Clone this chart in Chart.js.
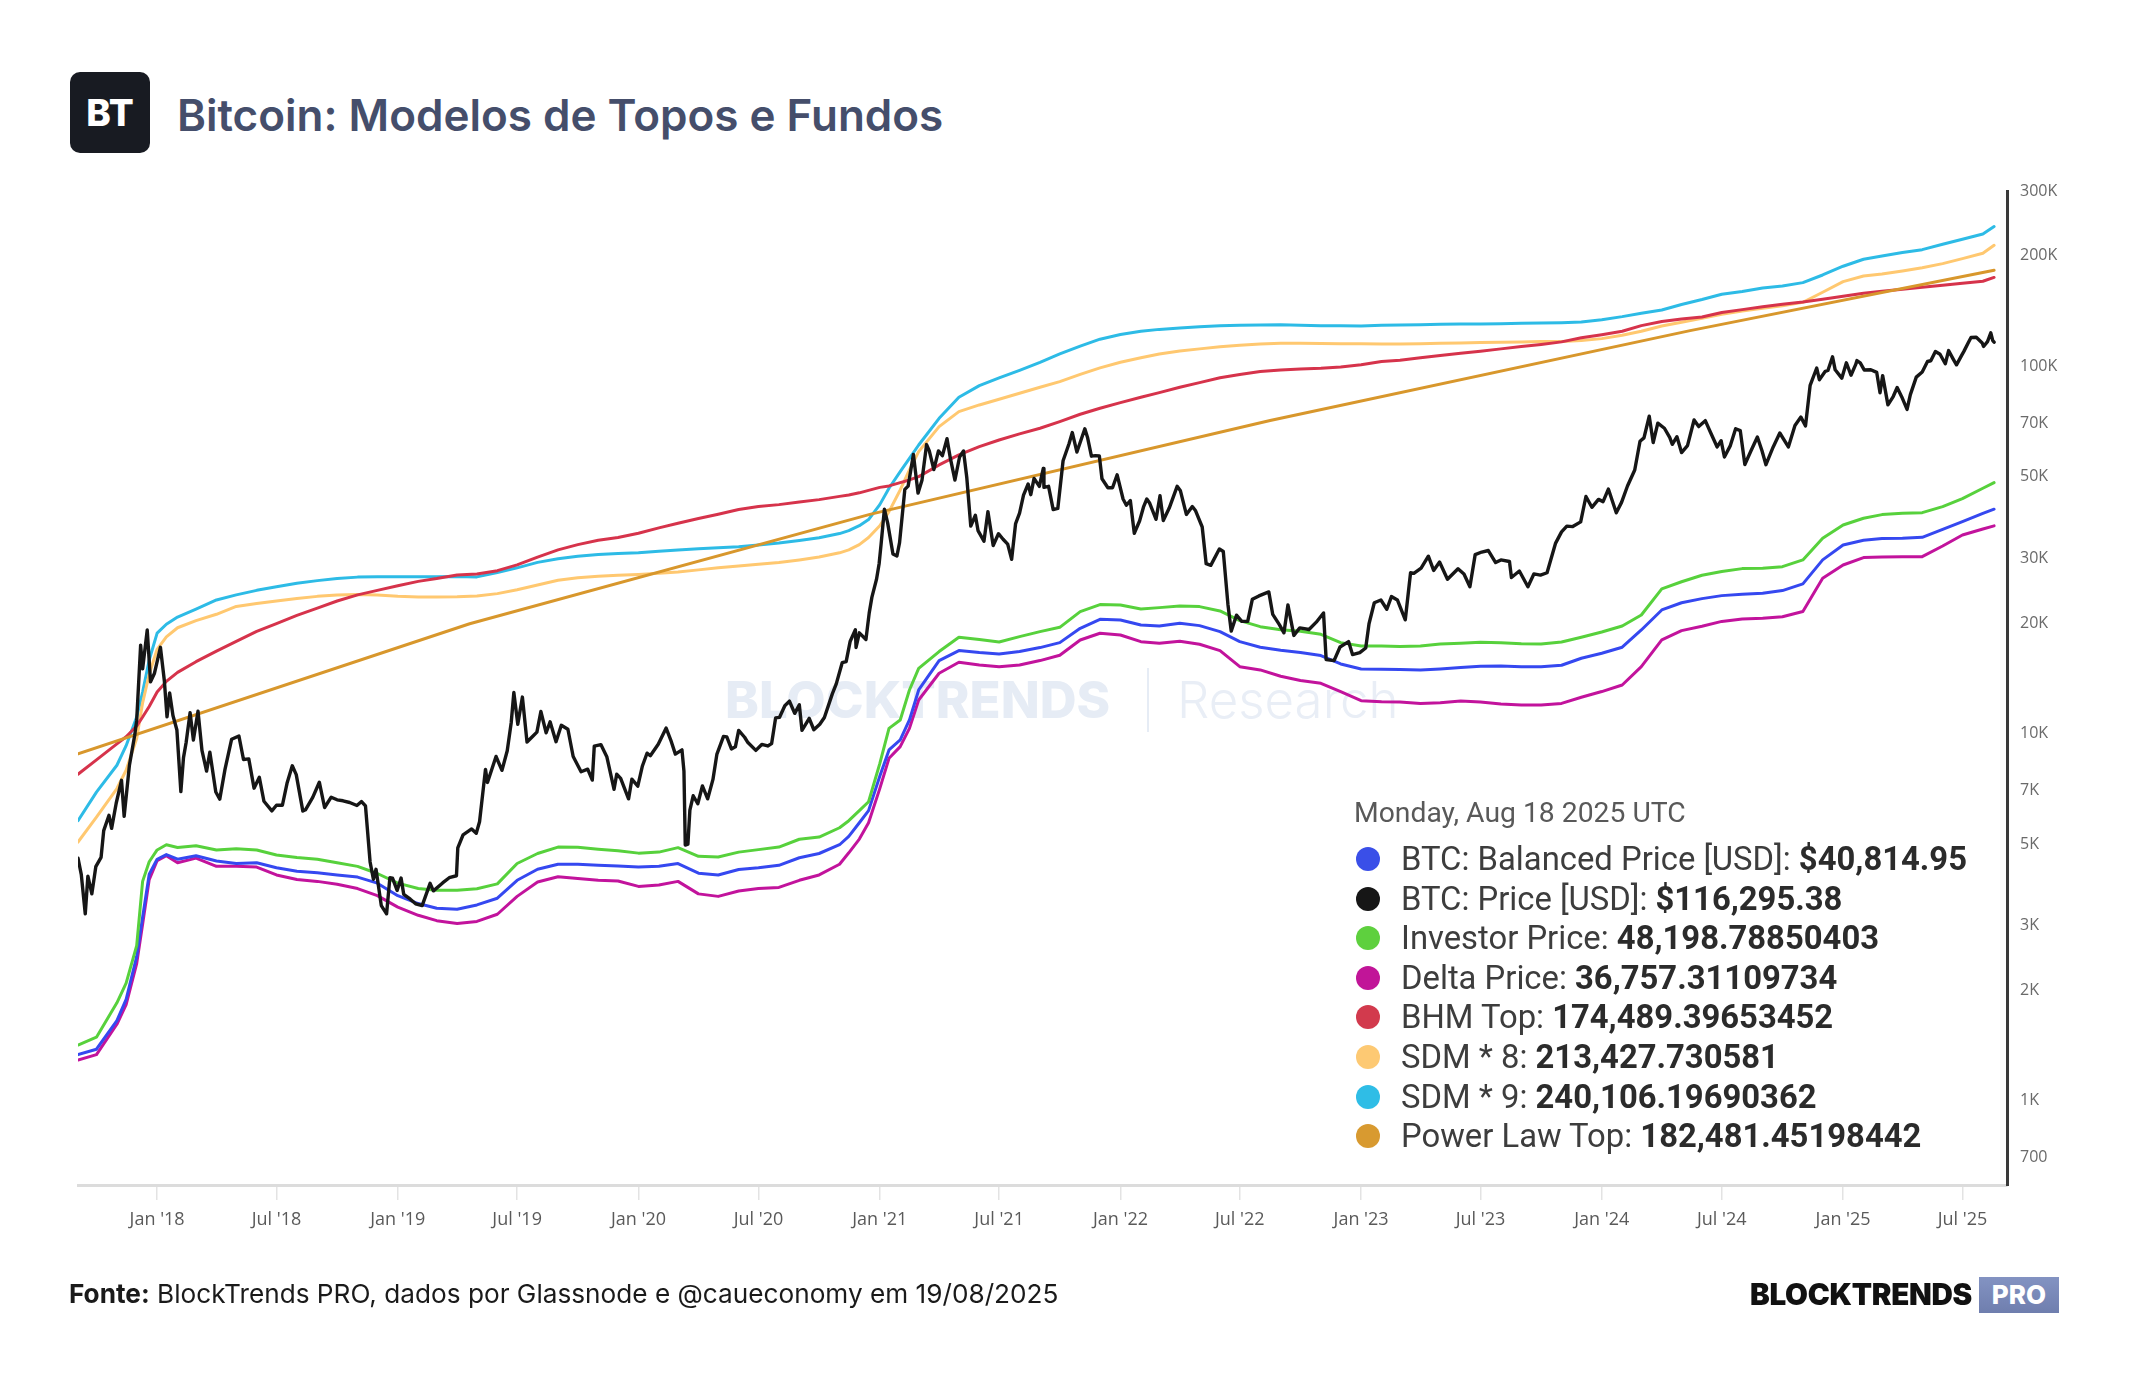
<!DOCTYPE html>
<html>
<head>
<meta charset="utf-8">
<title>Bitcoin: Modelos de Topos e Fundos</title>
<script src="https://cdn.jsdelivr.net/npm/chart.js@4.4.1/dist/chart.umd.min.js"></script>
<style>
  body { margin: 0; background: #fff; }
  #page { position: relative; width: 2144px; height: 1400px; overflow: hidden; background: #fff; font-family: Inter, 'Noto Sans', sans-serif; }
  #logo { position: absolute; left: 70px; top: 72px; width: 80px; height: 81px; border-radius: 10px; background: #181b22;
          color: #fff; font: 800 37px Inter; display: flex; align-items: center; justify-content: center; }
  #title { position: absolute; left: 177px; top: 93px; font: 600 44px/44px Inter; color: #454e6b; white-space: nowrap; }
  .wm { position: absolute; white-space: nowrap; }
  #wm-bold { left: 725px; top: 674px; font: 800 51px/52px Inter; color: #e6ecf5; }
  #wm-bar { left: 1147px; top: 668px; width: 2px; height: 64px; background: #e6ecf5; }
  #wm-light { left: 1177px; top: 674px; font: 300 51px/52px Inter; color: #e9eef6; }
  #chart { position: absolute; left: 0; top: 0; }
  #readout { position: absolute; left: 0; top: 0; font-family: Roboto, sans-serif; }
  .rd-date { position: absolute; left: 1354px; top: 797px; font-size: 28.3px; line-height: 32px; color: #595959; white-space: nowrap; }
  .rd-row { position: absolute; left: 1356px; height: 40px; line-height: 40px; font-size: 32.8px; color: #3d3d3d; white-space: nowrap; }
  .rd-row .dot { position: absolute; left: 0; top: 8px; width: 24px; height: 24px; border-radius: 50%; }
  .rd-row .txt { position: absolute; left: 45px; }
  .rd-row b { color: #2b2b2b; }
  #source { position: absolute; left: 69px; top: 1281px; font: 400 26.2px/26px Inter; color: #1a1a1a; white-space: nowrap; }
  #brand { position: absolute; left: 1750px; top: 1280px; font: 900 29.6px/29px Inter; color: #111; white-space: nowrap; letter-spacing: -0.3px; }
  #pro { position: absolute; left: 1979px; top: 1277px; width: 80px; height: 36px; background: linear-gradient(#8393c2, #6f7eae);
         color: #fff; font: 800 26px/36px Inter; text-align: center; }
</style>
</head>
<body>
<div id="page">
  <div id="logo">BT</div>
  <div id="title">Bitcoin: Modelos de Topos e Fundos</div>
  <div class="wm" id="wm-bold">BLOCKTRENDS</div>
  <div class="wm" id="wm-bar"></div>
  <div class="wm" id="wm-light">Research</div>
  <canvas id="chart" width="2144" height="1400"></canvas>
  <div id="readout"></div>
  <div id="source"><b>Fonte:</b> BlockTrends PRO, dados por Glassnode e @caueconomy em 19/08/2025</div>
  <div id="brand">BLOCKTRENDS</div>
  <div id="pro">PRO</div>
</div>
<script>
// Axis ticks
const xTickDates = ['2018-01-01', '2018-07-01', '2019-01-01', '2019-07-01', '2020-01-01', '2020-07-01', '2021-01-01', '2021-07-01',
    '2022-01-01', '2022-07-01', '2023-01-01', '2023-07-01', '2024-01-01', '2024-07-01', '2025-01-01', '2025-07-01'];
const xTickLabels = ["Jan '18", "Jul '18", "Jan '19", "Jul '19", "Jan '20", "Jul '20", "Jan '21", "Jul '21",
    "Jan '22", "Jul '22", "Jan '23", "Jul '23", "Jan '24", "Jul '24", "Jan '25", "Jul '25"];
const yTickValues = [700, 1000, 2000, 3000, 5000, 7000, 10000, 20000, 30000, 50000, 70000, 100000, 200000, 300000];
const yTickLabels = ['700', '1K', '2K', '3K', '5K', '7K', '10K', '20K', '30K', '50K', '70K', '100K', '200K', '300K'];

// BTC price (USD)
const priceDates = [
    '2017-09-03', '2017-09-08', '2017-09-14', '2017-09-18', '2017-09-24', '2017-09-30', '2017-10-08', '2017-10-12', '2017-10-20', '2017-10-24',
    '2017-10-31', '2017-11-08', '2017-11-12', '2017-11-20', '2017-11-28', '2017-12-01', '2017-12-07', '2017-12-10', '2017-12-17', '2017-12-22',
    '2017-12-28', '2018-01-06', '2018-01-12', '2018-01-16', '2018-01-20', '2018-01-25', '2018-01-31', '2018-02-06', '2018-02-10', '2018-02-14',
    '2018-02-20', '2018-02-25', '2018-03-04', '2018-03-10', '2018-03-17', '2018-03-22', '2018-03-31', '2018-04-06', '2018-04-14', '2018-04-24',
    '2018-05-05', '2018-05-12', '2018-05-20', '2018-05-28', '2018-06-05', '2018-06-12', '2018-06-24', '2018-07-01', '2018-07-10', '2018-07-17',
    '2018-07-25', '2018-07-31', '2018-08-10', '2018-08-14', '2018-08-25', '2018-09-04', '2018-09-12', '2018-09-22', '2018-10-01', '2018-10-10',
    '2018-10-20', '2018-10-31', '2018-11-07', '2018-11-13', '2018-11-20', '2018-11-25', '2018-11-29', '2018-12-07', '2018-12-15', '2018-12-20',
    '2018-12-24', '2018-12-31', '2019-01-06', '2019-01-10', '2019-01-20', '2019-01-28', '2019-02-07', '2019-02-19', '2019-02-24', '2019-03-10',
    '2019-03-20', '2019-03-31', '2019-04-02', '2019-04-10', '2019-04-23', '2019-04-30', '2019-05-05', '2019-05-14', '2019-05-17', '2019-05-30',
    '2019-06-08', '2019-06-16', '2019-06-22', '2019-06-26', '2019-07-02', '2019-07-09', '2019-07-16', '2019-07-24', '2019-07-31', '2019-08-06',
    '2019-08-14', '2019-08-20', '2019-08-29', '2019-09-06', '2019-09-16', '2019-09-24', '2019-10-06', '2019-10-16', '2019-10-23', '2019-10-26',
    '2019-11-05', '2019-11-14', '2019-11-25', '2019-11-29', '2019-12-05', '2019-12-17', '2019-12-22', '2019-12-31', '2020-01-07', '2020-01-14',
    '2020-01-19', '2020-01-31', '2020-02-12', '2020-02-19', '2020-02-26', '2020-03-07', '2020-03-10', '2020-03-12', '2020-03-16', '2020-03-19',
    '2020-03-24', '2020-03-31', '2020-04-07', '2020-04-15', '2020-04-23', '2020-04-29', '2020-05-09', '2020-05-14', '2020-05-21', '2020-05-27',
    '2020-06-01', '2020-06-10', '2020-06-15', '2020-06-27', '2020-07-06', '2020-07-15', '2020-07-21', '2020-07-27', '2020-08-02', '2020-08-10',
    '2020-08-17', '2020-08-25', '2020-09-01', '2020-09-05', '2020-09-16', '2020-09-23', '2020-10-02', '2020-10-09', '2020-10-21', '2020-10-27',
    '2020-11-05', '2020-11-11', '2020-11-17', '2020-11-25', '2020-11-26', '2020-12-01', '2020-12-11', '2020-12-16', '2020-12-20', '2020-12-27',
    '2020-12-31', '2021-01-03', '2021-01-08', '2021-01-13', '2021-01-21', '2021-01-27', '2021-01-31', '2021-02-08', '2021-02-13', '2021-02-21',
    '2021-02-28', '2021-03-06', '2021-03-13', '2021-03-17', '2021-03-24', '2021-03-31', '2021-04-06', '2021-04-13', '2021-04-18', '2021-04-25',
    '2021-05-02', '2021-05-08', '2021-05-13', '2021-05-19', '2021-05-26', '2021-05-30', '2021-06-08', '2021-06-14', '2021-06-22', '2021-06-30',
    '2021-07-07', '2021-07-14', '2021-07-20', '2021-07-26', '2021-08-01', '2021-08-07', '2021-08-14', '2021-08-18', '2021-08-23', '2021-08-31',
    '2021-09-06', '2021-09-07', '2021-09-14', '2021-09-21', '2021-09-28', '2021-10-06', '2021-10-15', '2021-10-20', '2021-10-27', '2021-11-08',
    '2021-11-12', '2021-11-18', '2021-11-24', '2021-11-30', '2021-12-04', '2021-12-13', '2021-12-20', '2021-12-27', '2022-01-05', '2022-01-10',
    '2022-01-16', '2022-01-22', '2022-01-30', '2022-02-05', '2022-02-10', '2022-02-14', '2022-02-24', '2022-03-02', '2022-03-07', '2022-03-16',
    '2022-03-28', '2022-04-02', '2022-04-11', '2022-04-20', '2022-04-25', '2022-05-05', '2022-05-11', '2022-05-18', '2022-05-31', '2022-06-06',
    '2022-06-13', '2022-06-18', '2022-06-26', '2022-07-04', '2022-07-13', '2022-07-20', '2022-07-30', '2022-08-14', '2022-08-20', '2022-08-30',
    '2022-09-06', '2022-09-12', '2022-09-21', '2022-09-30', '2022-10-14', '2022-10-25', '2022-11-05', '2022-11-09', '2022-11-21', '2022-11-30',
    '2022-12-13', '2022-12-19', '2022-12-30', '2023-01-08', '2023-01-13', '2023-01-21', '2023-01-31', '2023-02-09', '2023-02-16', '2023-02-25',
    '2023-03-09', '2023-03-17', '2023-03-22', '2023-04-02', '2023-04-13', '2023-04-21', '2023-04-30', '2023-05-12', '2023-05-28', '2023-06-06',
    '2023-06-15', '2023-06-23', '2023-07-03', '2023-07-13', '2023-07-24', '2023-08-01', '2023-08-14', '2023-08-17', '2023-08-29', '2023-09-11',
    '2023-09-20', '2023-09-30', '2023-10-10', '2023-10-23', '2023-11-01', '2023-11-09', '2023-11-18', '2023-11-30', '2023-12-08', '2023-12-17',
    '2023-12-27', '2024-01-03', '2024-01-11', '2024-01-23', '2024-01-31', '2024-02-09', '2024-02-20', '2024-02-28', '2024-03-05', '2024-03-13',
    '2024-03-19', '2024-03-26', '2024-04-05', '2024-04-13', '2024-04-17', '2024-04-24', '2024-05-01', '2024-05-10', '2024-05-20', '2024-05-27',
    '2024-06-06', '2024-06-14', '2024-06-24', '2024-06-30', '2024-07-05', '2024-07-14', '2024-07-22', '2024-07-29', '2024-08-05', '2024-08-14',
    '2024-08-24', '2024-08-31', '2024-09-06', '2024-09-17', '2024-09-27', '2024-10-10', '2024-10-20', '2024-10-29', '2024-11-05', '2024-11-12',
    '2024-11-22', '2024-11-26', '2024-12-05', '2024-12-09', '2024-12-16', '2024-12-20', '2024-12-30', '2025-01-06', '2025-01-13', '2025-01-20',
    '2025-01-22', '2025-01-27', '2025-02-02', '2025-02-12', '2025-02-21', '2025-02-26', '2025-03-02', '2025-03-10', '2025-03-18', '2025-03-24',
    '2025-03-31', '2025-04-08', '2025-04-13', '2025-04-22', '2025-05-01', '2025-05-09', '2025-05-14', '2025-05-21', '2025-05-28', '2025-06-05',
    '2025-06-10', '2025-06-17', '2025-06-22', '2025-06-30', '2025-07-03', '2025-07-10', '2025-07-14', '2025-07-22', '2025-07-31', '2025-08-02',
    '2025-08-08', '2025-08-13', '2025-08-16', '2025-08-18'
];
const priceValues = [
    4580, 4130, 3230, 4090, 3660, 4340, 4600, 5440, 5990, 5520,
    6470, 7460, 5950, 8200, 9890, 10860, 17400, 15000, 19140, 13830,
    14600, 17170, 13900, 11100, 12900, 11200, 10220, 6950, 8600, 9450,
    11400, 9600, 11500, 9000, 7900, 8900, 6930, 6630, 8000, 9650,
    9850, 8500, 8530, 7100, 7600, 6540, 6160, 6380, 6380, 7320,
    8170, 7730, 6150, 6200, 6700, 7370, 6290, 6710, 6600, 6560,
    6490, 6370, 6530, 6350, 4470, 4010, 4270, 3400, 3230, 4050,
    4040, 3740, 4040, 3650, 3540, 3440, 3400, 3910, 3730, 3920,
    4050, 4100, 4880, 5300, 5500, 5350, 5750, 7990, 7360, 8660,
    7940, 8980, 10700, 12930, 10600, 12570, 9480, 9800, 10090, 11480,
    10050, 10760, 9500, 10530, 10270, 8660, 7870, 8000, 7470, 9240,
    9330, 8650, 7050, 7750, 7550, 6640, 7510, 7190, 8160, 8840,
    8700, 9350, 10350, 9600, 8790, 9030, 7900, 4970, 5000, 6190,
    6770, 6440, 7200, 6640, 7500, 8790, 9820, 9790, 9080, 9200,
    10200, 9770, 9450, 9000, 9340, 9250, 9390, 11030, 11070, 11900,
    12250, 11350, 11970, 10200, 11000, 10240, 10600, 11060, 12820, 13650,
    15590, 15700, 17800, 19170, 17150, 18800, 18040, 21310, 23480, 26280,
    28990, 32780, 40800, 37400, 30830, 30430, 33110, 46200, 47170, 57540,
    45140, 48900, 61200, 58900, 52300, 58800, 57100, 63500, 56200, 49000,
    56600, 58800, 49700, 36700, 39300, 35700, 33400, 40200, 32500, 35000,
    33800, 32800, 29800, 37300, 39800, 44600, 47800, 44700, 49500, 47100,
    52700, 46800, 47100, 40700, 41000, 55300, 61500, 65990, 58400, 67550,
    64100, 56900, 57100, 57000, 49400, 46700, 46700, 50640, 43500, 41830,
    43100, 35100, 37900, 41400, 43500, 42500, 38300, 44400, 38000, 41100,
    47100, 45800, 39500, 41500, 40400, 36500, 29000, 28700, 31800, 31300,
    22500, 19000, 21000, 20200, 20200, 23200, 23700, 24300, 21100, 19800,
    18800, 22400, 18500, 19400, 19200, 20100, 21300, 15900, 15800, 17200,
    17800, 16400, 16600, 17100, 19900, 22700, 23100, 21800, 23600, 23100,
    20400, 27400, 27300, 28200, 30400, 27800, 29300, 26300, 28100, 27200,
    25100, 30700, 31200, 31500, 29200, 29700, 29400, 26600, 27700, 25100,
    27200, 27000, 27400, 33000, 35400, 36700, 36600, 37700, 44200, 41300,
    43400, 42800, 46300, 39900, 42600, 47200, 52200, 62500, 63800, 73100,
    62000, 70000, 67800, 64000, 61300, 64300, 58200, 60800, 71400, 68500,
    71100, 66000, 60300, 62700, 56600, 60800, 67600, 66800, 54000, 58700,
    64200, 58900, 53950, 60300, 65800, 60300, 69000, 72700, 68800, 88700,
    98900, 91900, 96900, 97400, 106100, 97800, 92800, 102200, 94500, 101000,
    103600, 102100, 97700, 97800, 96200, 84700, 94300, 78500, 82700, 87500,
    82500, 76300, 83700, 93400, 96500, 103000, 103500, 109700, 107800, 101600,
    110300, 104600, 100900, 107200, 109600, 116000, 119800, 119900, 115700, 113200,
    116700, 123300, 117400, 116295
];

// Shared dates for the on-chain models (roughly monthly)
const modelDates = [
    '2017-09-03', '2017-10-01', '2017-11-01', '2017-11-15', '2017-12-01', '2017-12-10', '2017-12-20',
    '2018-01-01', '2018-01-15', '2018-02-01', '2018-03-01', '2018-04-01', '2018-05-01', '2018-06-01', '2018-07-01', '2018-08-01', '2018-09-01', '2018-10-01', '2018-11-01', '2018-12-01',
    '2019-01-01', '2019-02-01', '2019-03-01', '2019-04-01', '2019-05-01', '2019-06-01', '2019-07-01', '2019-08-01', '2019-09-01', '2019-10-01', '2019-11-01', '2019-12-01',
    '2020-01-01', '2020-02-01', '2020-03-01', '2020-04-01', '2020-05-01', '2020-06-01', '2020-07-01', '2020-08-01', '2020-09-01', '2020-10-01', '2020-11-01', '2020-11-15', '2020-12-01', '2020-12-15',
    '2021-01-01', '2021-01-15', '2021-02-01', '2021-02-15', '2021-03-01', '2021-04-01', '2021-05-01', '2021-06-01', '2021-07-01', '2021-08-01', '2021-09-01', '2021-10-01', '2021-11-01', '2021-12-01',
    '2022-01-01', '2022-02-01', '2022-03-01', '2022-04-01', '2022-05-01', '2022-06-01', '2022-07-01', '2022-08-01', '2022-09-01', '2022-10-01', '2022-11-01', '2022-12-01',
    '2023-01-01', '2023-02-01', '2023-03-01', '2023-04-01', '2023-05-01', '2023-06-01', '2023-07-01', '2023-08-01', '2023-09-01', '2023-10-01', '2023-11-01', '2023-12-01',
    '2024-01-01', '2024-02-01', '2024-03-01', '2024-04-01', '2024-05-01', '2024-06-01', '2024-07-01', '2024-08-01', '2024-09-01', '2024-10-01', '2024-11-01', '2024-12-01',
    '2025-01-01', '2025-02-01', '2025-03-01', '2025-04-01', '2025-05-01', '2025-06-01', '2025-07-01', '2025-08-01', '2025-08-18'
];

const balancedPrice = [
    1336, 1382, 1653, 1890, 2470, 3164, 4140,
    4548, 4682, 4548, 4650, 4497, 4428, 4448, 4310, 4215, 4178, 4121, 4066, 3914,
    3619, 3445, 3345, 3323, 3415, 3562, 3985, 4272, 4407, 4407, 4378, 4358,
    4330, 4349, 4427, 4168, 4121, 4263, 4311, 4378, 4590, 4714, 4980, 5250, 5715, 6168,
    7650, 9025, 9607, 10890, 13140, 15800, 16820, 16610, 16470, 16720, 17140, 17680, 19340, 20460,
    20380, 19750, 19630, 19960, 19670, 18940, 17790, 17180, 16850, 16610, 16300, 15470,
    14990, 14960, 14930, 14900, 14990, 15120, 15250, 15280, 15210, 15210, 15340, 16030,
    16540, 17180, 19140, 21700, 22700, 23300, 23740, 23940, 24090, 24500, 25550, 29700,
    32610, 33590, 33940, 34000, 34220, 35980, 37760, 39770, 40815
];
const investorPrice = [
    1419, 1490, 1849, 2092, 2645, 3958, 4477,
    4820, 4980, 4896, 4951, 4820, 4860, 4820, 4672, 4600, 4548, 4448, 4349, 4159,
    3914, 3784, 3742, 3742, 3780, 3897, 4427, 4714, 4907, 4900, 4842, 4799,
    4725, 4755, 4890, 4630, 4610, 4755, 4830, 4907, 5155, 5225, 5540, 5790, 6165, 6520,
    8280, 10330, 10890, 13140, 15050, 16720, 18280, 18020, 17750, 18360, 18940, 19460, 21480, 22440,
    22390, 21840, 22020, 22250, 22160, 21570, 20290, 19540, 19170, 18980, 18630, 17680,
    17320, 17320, 17250, 17320, 17530, 17610, 17720, 17680, 17570, 17530, 17750, 18280,
    18900, 19620, 21030, 24760, 25900, 26970, 27600, 28120, 28180, 28470, 29700, 34000,
    36970, 38550, 39450, 39770, 39940, 41480, 43610, 46530, 48199
];
const deltaPrice = [
    1292, 1336, 1616, 1829, 2365, 3026, 4003,
    4507, 4650, 4448, 4579, 4349, 4349, 4330, 4121, 4003, 3958, 3888, 3784, 3619,
    3368, 3200, 3094, 3040, 3080, 3221, 3603, 3941, 4075, 4030, 3985, 3967,
    3836, 3870, 3958, 3660, 3603, 3726, 3785, 3811, 3985, 4121, 4407, 4735, 5160, 5715,
    7080, 8563, 9214, 10330, 12340, 14590, 15630, 15370, 15210, 15370, 15800, 16340, 17980, 18750,
    18550, 17790, 17610, 17830, 17500, 16820, 15210, 14900, 14320, 13940, 13700, 13010,
    12290, 12210, 12190, 12080, 12130, 12260, 12190, 12030, 11960, 11960, 12080, 12550,
    13010, 13560, 15210, 17980, 19060, 19600, 20200, 20500, 20600, 20800, 21500, 26460,
    28770, 30130, 30250, 30310, 30310, 32410, 34730, 36060, 36757
];
const bhmTop = [
    7750, 8475, 9372, 9800, 10480, 11090, 11850,
    12970, 13870, 14670, 15690, 16770, 17820, 18970, 19930, 20980, 21940, 22950, 23850, 24540,
    25270, 25960, 26420, 27020, 27200, 27760, 28780, 30230, 31620, 32690, 33580, 34180,
    35110, 36310, 37390, 38500, 39560, 40740, 41530, 42000, 42670, 43340, 44230, 44620, 45220, 45930,
    46800, 47220, 48220, 49030, 50060, 53860, 57350, 60410, 62990, 65420, 67780, 70680, 74000, 76840,
    79620, 82300, 84750, 87640, 90240, 93000, 95000, 96700, 97700, 98300, 98700, 99550,
    101000, 103000, 103800, 105500, 107000, 108500, 109900, 111500, 113100, 114600, 116500, 119600,
    121900, 124500, 129000, 132300, 134400, 136200, 140000, 142600, 145300, 147500, 149600, 152100,
    155000, 158000, 160000, 162000, 164100, 166100, 168200, 170400, 174489
];
const sdm8 = [
    5063, 5923, 7085, 7943, 9692, 12120, 14500,
    16960, 18340, 19410, 20290, 21120, 22190, 22590, 22950, 23320, 23630, 23850, 23900, 23850,
    23630, 23530, 23530, 23580, 23700, 24040, 24620, 25380, 26130, 26550, 26800, 26980,
    27110, 27300, 27530, 27900, 28260, 28580, 28900, 29240, 29700, 30230, 31050, 31620, 32690, 34180,
    36800, 40200, 46050, 52200, 58560, 68480, 75240, 78460, 81290, 84420, 87640, 90820, 95000, 99000,
    102500, 105500, 108000, 110000, 111500, 113000, 114000, 115000, 115500, 115500, 115400, 115200,
    115100, 115000, 115000, 115200, 115500, 115700, 116000, 116200, 116400, 116700, 116700, 117500,
    118900, 121400, 124500, 128700, 131800, 135100, 138500, 141400, 143800, 146200, 149300, 159000,
    170000, 176100, 178300, 181700, 185500, 190300, 196300, 203000, 213428
];
const sdm9 = [
    5792, 6928, 8197, 9268, 11090, 12970, 15860,
    18760, 19840, 20750, 21800, 23100, 23850, 24540, 25100, 25670, 26080, 26420, 26660, 26720,
    26720, 26720, 26720, 26750, 26700, 27450, 28260, 29240, 29900, 30370, 30710, 30920,
    31050, 31340, 31620, 31830, 32050, 32250, 32630, 33000, 33520, 34110, 35030, 35670, 36800, 38240,
    42000, 46540, 51660, 56160, 61040, 72160, 82300, 88580, 93000, 97500, 102500, 108000, 113500, 118500,
    122000, 124500, 126000, 127000, 128000, 128800, 129300, 129600, 129800, 129300, 129000, 128800,
    128700, 129300, 129600, 129800, 130100, 130400, 130400, 130600, 130900, 131100, 131400, 132000,
    133900, 136500, 139400, 142300, 147300, 151900, 157000, 159700, 163400, 165400, 168900, 177200,
    187200, 195600, 199700, 203900, 207700, 214800, 221600, 229200, 240106
];

// Power law top: a few readings along the curve
const powerLawDates = ['2017-09-03', '2019-04-20', '2020-12-17', '2022-08-16', '2024-05-14', '2025-08-18'];
const powerLawValues = [8800, 19900, 39500, 71200, 125000, 182481];

// Readout box (values on Aug 18 2025)
const readoutDate = 'Monday, Aug 18 2025 UTC';
const legendNames = ['BTC: Balanced Price [USD]', 'BTC: Price [USD]', 'Investor Price', 'Delta Price',
    'BHM Top', 'SDM * 8', 'SDM * 9', 'Power Law Top'];
const legendValues = ['$40,814.95', '$116,295.38', '48,198.78850403', '36,757.31109734',
    '174,489.39653452', '213,427.730581', '240,106.19690362', '182,481.45198442'];
const legendColors = ['#3a4fe8', '#161616', '#5ed03e', '#c11598', '#d23a4d', '#fdc973', '#2fbde6', '#d89a30'];

const xMin = Date.parse('2017-09-03');
const xMax = Date.parse('2025-09-06T14:00:00Z');

function toPoints(dates, values) {
    return dates.map((d, i) => ({ x: Date.parse(d), y: values[i] }));
}

function lineSet(label, dates, values, color, width, order) {
    return {
        label: label,
        data: toPoints(dates, values),
        borderColor: color,
        backgroundColor: color,
        borderWidth: width,
        order: order,
    };
}

// Readout box
const readout = document.getElementById('readout');
let html = `<div class="rd-date">${readoutDate}</div>`;
legendNames.forEach((name, i) => {
    const top = 839 + i * 39.6;
    html += `<div class="rd-row" style="top:${top}px"><span class="dot" style="background:${legendColors[i]}"></span>` +
        `<span class="txt">${name}: <b>${legendValues[i]}</b></span></div>`;
});
readout.innerHTML = html;

const ctx = document.getElementById('chart');
new Chart(ctx, {
    type: 'line',
    data: {
        datasets: [
            lineSet('BTC: Price [USD]', priceDates, priceValues, '#161616', 3.4, 0),
            lineSet('Investor Price', modelDates, investorPrice, '#57d13c', 3, 1),
            lineSet('BTC: Balanced Price [USD]', modelDates, balancedPrice, '#3548f0', 3, 2),
            lineSet('Delta Price', modelDates, deltaPrice, '#c2139c', 3, 3),
            lineSet('Power Law Top', powerLawDates, powerLawValues, '#d8972c', 3, 4),
            lineSet('BHM Top', modelDates, bhmTop, '#d6334b', 3, 5),
            lineSet('SDM * 8', modelDates, sdm8, '#ffc870', 3, 6),
            lineSet('SDM * 9', modelDates, sdm9, '#2dbbe6', 3, 7),
        ]
    },
    options: {
        responsive: false,
        animation: false,
        parsing: false,
        layout: { padding: { left: 78, top: 191, right: 0, bottom: 155 } },
        elements: {
            point: { radius: 0, hoverRadius: 0 },
            line: { tension: 0, borderJoinStyle: 'round', borderCapStyle: 'round' }
        },
        plugins: {
            legend: { display: false },
            tooltip: { enabled: false }
        },
        scales: {
            x: {
                type: 'linear',
                min: xMin,
                max: xMax,
                afterBuildTicks: axis => {
                    axis.ticks = xTickDates.map(d => ({ value: Date.parse(d) }));
                },
                afterFit: axis => { axis.height = 60; },
                grid: { drawOnChartArea: false, drawTicks: true, tickLength: 15, color: '#e3e3e3', lineWidth: 1.5 },
                border: { color: '#dcdcdc', width: 3 },
                ticks: {
                    autoSkip: false,
                    maxRotation: 0,
                    padding: 9,
                    color: '#5a5a5a',
                    font: { family: 'Open Sans', size: 18 },
                    callback: (value, index) => xTickLabels[index]
                }
            },
            y: {
                type: 'logarithmic',
                position: 'right',
                min: 590,
                max: 300000,
                afterBuildTicks: axis => {
                    axis.ticks = yTickValues.map(v => ({ value: v }));
                },
                afterFit: axis => { axis.width = 137; },
                grid: { drawOnChartArea: false, drawTicks: false },
                border: { color: '#3a3a3a', width: 3 },
                ticks: {
                    autoSkip: false,
                    padding: 13,
                    color: '#6a6a6a',
                    font: { family: 'Open Sans', size: 16 },
                    callback: (value, index) => yTickLabels[index]
                }
            }
        }
    }
});
</script>
</body>
</html>
